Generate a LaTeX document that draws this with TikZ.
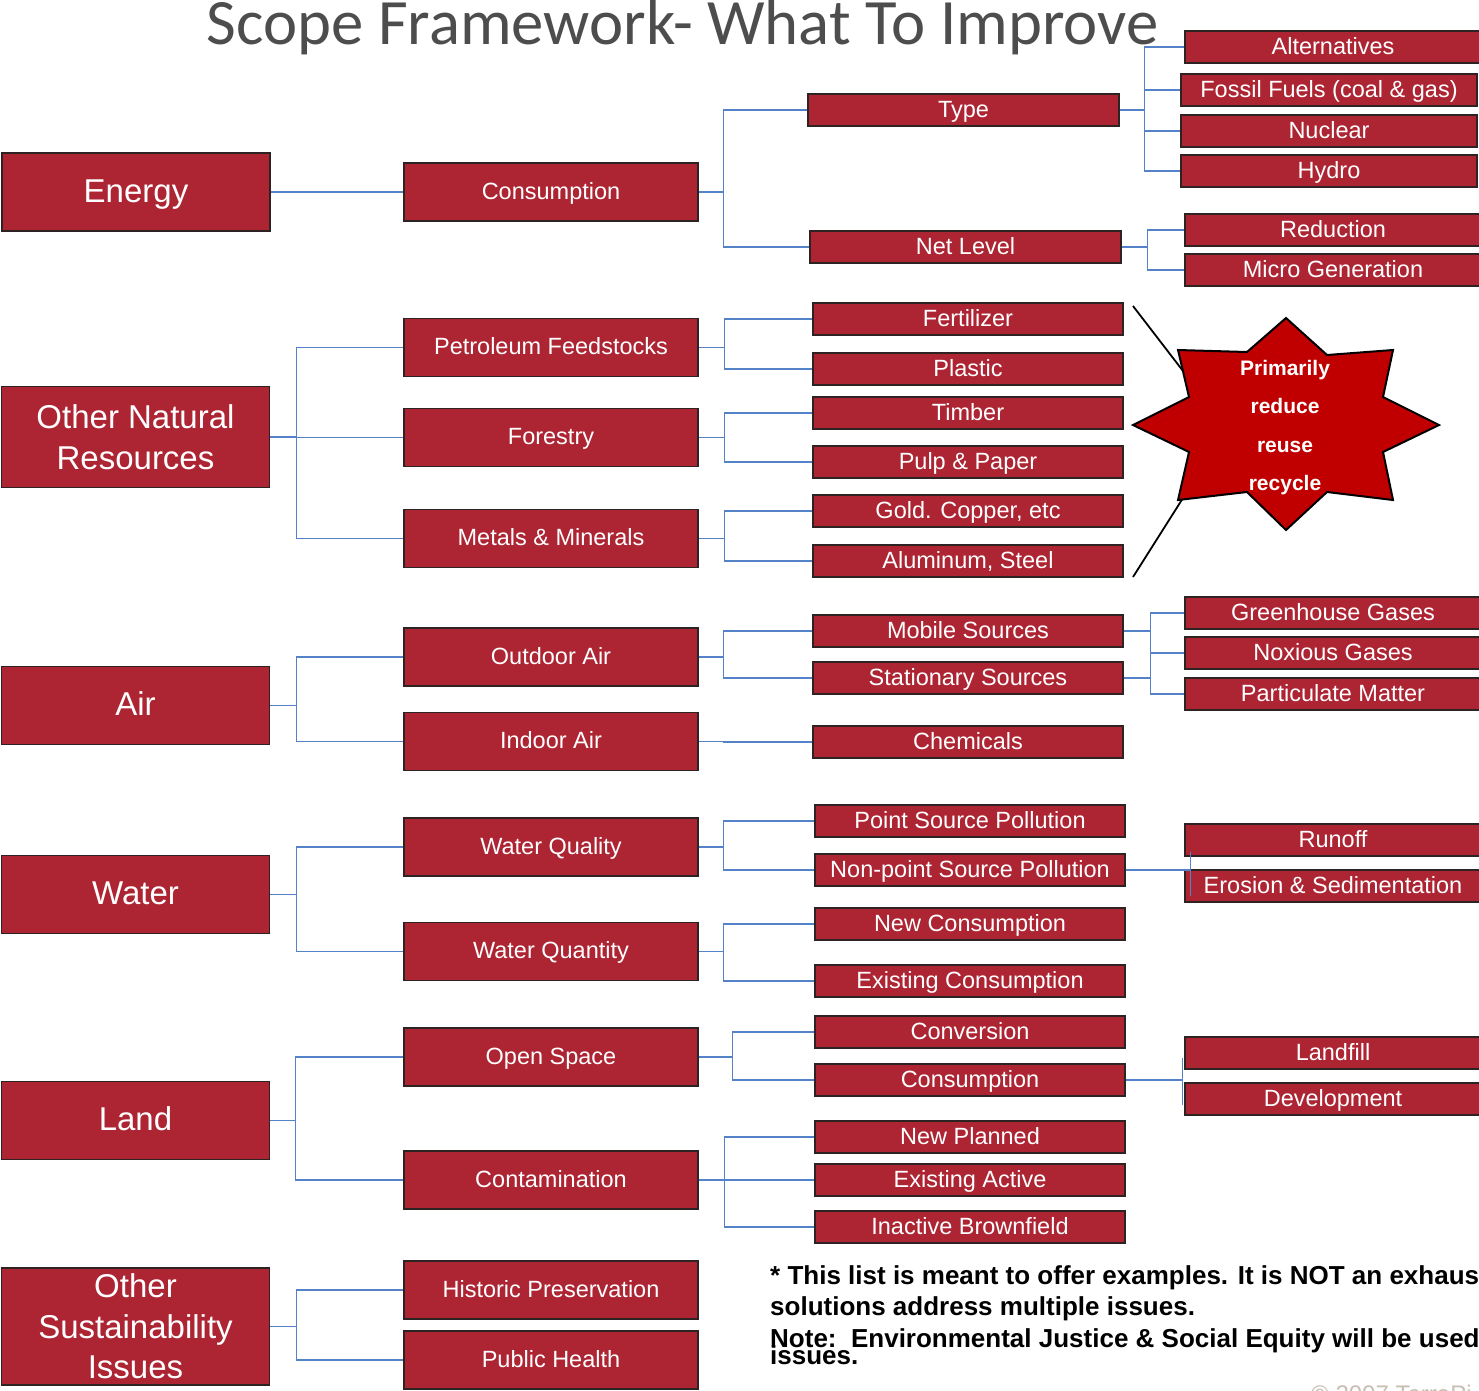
\documentclass[tikz,border=0pt]{standalone}
\usepackage{fontspec}
\setmainfont{Liberation Sans}
\newfontfamily\titlefont{Carlito}
\definecolor{boxred}{RGB}{173,36,51}
\definecolor{starred}{RGB}{192,0,0}
\definecolor{connblue}{RGB}{84,130,200}
\definecolor{boxline}{RGB}{45,35,35}
\definecolor{titlegray}{RGB}{77,77,77}
\definecolor{copygray}{RGB}{200,190,178}
\tikzset{
  box/.style={draw=boxline, line width=1.3pt, fill=boxred, text=white, inner sep=0pt, anchor=center},
  bone/.style={box, minimum width=268, minimum height=78, align=center, font=\fontsize{33}{40.5}\selectfont},
  bonesingle/.style={bone, text height=25pt, text depth=5pt},
  btwo/.style={box, minimum width=294, minimum height=58, text height=18pt, text depth=4pt, font=\fontsize{23.5}{28}\selectfont},
  bthree/.style={box, minimum width=310, minimum height=32, text height=18pt, text depth=4pt, font=\fontsize{23.5}{28}\selectfont},
  bfour/.style={box, minimum width=296, minimum height=32, text height=18pt, text depth=4pt, font=\fontsize{23.5}{28}\selectfont},
  conn/.style={draw=connblue, line width=1.2pt},
  note/.style={anchor=base west, inner sep=0pt, font=\fontsize{26}{30}\selectfont\bfseries},
}
\begin{document}
\begin{tikzpicture}[x=1pt,y=-1pt]
\useasboundingbox (0,0) rectangle (1479,1390);
\clip (0,0) rectangle (1479,1390);
\fill[white] (0,0) rectangle (1479,1390);

% title
\node[anchor=base, inner sep=0pt, text=titlegray, font=\titlefont\fontsize{64.7}{70}\selectfont] (title) at (682.5,44) {Scope Framework- What To Improve};

% column 1
\node[bonesingle] (energy) at (136,192) {Energy};
\node[bone, minimum height=101] (onr) at (135.5,437) {Other Natural\\Resources};
\node[bonesingle] (air) at (135.5,705.5) {Air};
\node[bonesingle] (water) at (135.5,894.5) {Water};
\node[bonesingle] (land) at (135.5,1120.5) {Land};
\node[bone, minimum height=117] (osi) at (135.5,1326.5) {Other\\Sustainability\\Issues};

% column 2
\node[btwo] (cons) at (551,192) {Consumption};
\node[btwo] (petro) at (551,347.5) {Petroleum Feedstocks};
\node[btwo] (forest) at (551,437.5) {Forestry};
\node[btwo] (metals) at (551,538.5) {Metals \& Minerals};
\node[btwo] (outdoor) at (551,657) {Outdoor Air};
\node[btwo] (indoor) at (551,741.5) {Indoor Air};
\node[btwo] (wqual) at (551,847) {Water Quality};
\node[btwo] (wquan) at (551,951.5) {Water Quantity};
\node[btwo] (open) at (551,1057) {Open Space};
\node[btwo] (contam) at (551,1180) {Contamination};
\node[btwo] (hist) at (551,1290) {Historic Preservation};
\node[btwo] (health) at (551,1360) {Public Health};

% column 3
\node[bthree, minimum width=311] (type) at (963.5,110) {Type};
\node[bthree, minimum width=311] (net) at (965.5,247) {Net Level};
\node[bthree] (fert) at (968,319) {Fertilizer};
\node[bthree] (plastic) at (968,369) {Plastic};
\node[bthree] (timber) at (968,413) {Timber};
\node[bthree] (pulp) at (968,462) {Pulp \& Paper};
\node[bthree] (gold) at (968,511) {Gold. Copper, etc};
\node[bthree] (alu) at (968,561) {Aluminum, Steel};
\node[bthree] (mobile) at (968,631) {Mobile Sources};
\node[bthree] (station) at (968,678) {Stationary Sources};
\node[bthree] (chem) at (968,742) {Chemicals};
\node[bthree] (point) at (970,821) {Point Source Pollution};
\node[bthree] (nonpoint) at (970,870) {Non-point Source Pollution};
\node[bthree] (newcons) at (970,924) {New Consumption};
\node[bthree] (excons) at (970,981) {Existing Consumption};
\node[bthree] (conv) at (970,1032) {Conversion};
\node[bthree] (lcons) at (970,1080) {Consumption};
\node[bthree] (newpl) at (970,1137) {New Planned};
\node[bthree] (exact) at (970,1180) {Existing Active};
\node[bthree] (inact) at (970,1227) {Inactive Brownfield};

% column 4
\node[bfour] (alt) at (1333,47) {Alternatives};
\node[bfour] (fossil) at (1329,90) {Fossil Fuels (coal \& gas)};
\node[bfour] (nuclear) at (1329,131) {Nuclear};
\node[bfour] (hydro) at (1329,171) {Hydro};
\node[bfour] (reduc) at (1333,230) {Reduction};
\node[bfour] (micro) at (1333,270) {Micro Generation};
\node[bfour] (ghg) at (1333,613) {Greenhouse Gases};
\node[bfour] (nox) at (1333,653) {Noxious Gases};
\node[bfour] (pm) at (1333,694) {Particulate Matter};
\node[bfour] (runoff) at (1333,840) {Runoff};
\node[bfour] (erosion) at (1333,886) {Erosion \& Sedimentation};
\node[bfour] (landfill) at (1333,1053) {Landfill};
\node[bfour] (devel) at (1333,1099) {Development};

% connectors
\draw[conn] (energy.east) -- (cons.west);
\draw[conn] (cons.east) -- ++(25,0) |- (type.west);
\draw[conn] (cons.east) -- ++(25,0) |- (net.west);
\foreach \t in {alt,fossil,nuclear,hydro}{\draw[conn] (type.east) -- ++(25,0) |- (\t.west);}
\foreach \t in {reduc,micro}{\draw[conn] (net.east) -- ++(26,0) |- (\t.west);}

\foreach \t in {petro,forest,metals}{\draw[conn] (onr.east) -- ++(26,0) |- (\t.west);}
\foreach \t in {fert,plastic}{\draw[conn] (petro.east) -- ++(26,0) |- (\t.west);}
\foreach \t in {timber,pulp}{\draw[conn] (forest.east) -- ++(26,0) |- (\t.west);}
\foreach \t in {gold,alu}{\draw[conn] (metals.east) -- ++(26,0) |- (\t.west);}

\foreach \t in {outdoor,indoor}{\draw[conn] (air.east) -- ++(26,0) |- (\t.west);}
\foreach \t in {mobile,station}{\draw[conn] (outdoor.east) -- ++(25,0) |- (\t.west);}
\draw[conn] (indoor.east) -- ++(25,0) |- (chem.west);
\foreach \t in {ghg,nox,pm}{\draw[conn] (mobile.east) -- ++(27,0) |- (\t.west);}
\draw[conn] (station.east) -- ++(27,0);

\foreach \t in {wqual,wquan}{\draw[conn] (water.east) -- ++(26,0) |- (\t.west);}
\foreach \t in {point,nonpoint}{\draw[conn] (wqual.east) -- ++(25,0) |- (\t.west);}
\foreach \t in {newcons,excons}{\draw[conn] (wquan.east) -- ++(25,0) |- (\t.west);}
\draw[conn] (nonpoint.east) -- ++(65,0) coordinate (npbus);
\draw[conn, line width=1pt] ([yshift=-26]npbus) -- ([yshift=18]npbus);

\foreach \t in {open,contam}{\draw[conn] (land.east) -- ++(25,0) |- (\t.west);}
\foreach \t in {conv,lcons}{\draw[conn] (open.east) -- ++(34,0) |- (\t.west);}
\foreach \t in {newpl,exact,inact}{\draw[conn] (contam.east) -- ++(26,0) |- (\t.west);}
\draw[conn] (lcons.east) -- ++(57,0) coordinate (lcbus);
\draw[conn] ([yshift=-25]lcbus) -- ([yshift=22]lcbus);

\foreach \t in {hist,health}{\draw[conn] (osi.east) -- ++(26,0) |- (\t.west);}

% starburst callout
\coordinate (ua) at (1133,306);
\coordinate (ub) at (1183,371);
\coordinate (la) at (1183,498);
\coordinate (lb) at (1133,577);
\draw[black, line width=1.8pt] (ua) -- (ub);
\draw[black, line width=1.8pt] (la) -- (lb);
\filldraw[fill=starred, draw=black, line width=2pt, line join=miter]
  (1286,318) -- (1327,355) -- (1393,350) -- (1383,397) -- (1439,425) -- (1383,452)
  -- (1393,500) -- (1327,492) -- (1286,530) -- (1247,492) -- (1178,500) -- (1189,452)
  -- (1133,425) -- (1189,397) -- (1178,350) -- (1247,352) -- cycle;
\node[text=white, align=center, inner sep=0pt, font=\fontsize{21}{38.5}\selectfont\bfseries] (startext) at (1285,427.5) {Primarily\\reduce\\reuse\\recycle};

% notes
\node[note] (n1) at (770,1284) {* This list is meant to offer examples. It is NOT an exhaustive list.};
\node[note] (n2) at (770,1315) {solutions address multiple issues.};
\node[note] (n3) at (770,1347) {Note:\ \ Environmental Justice \& Social Equity will be used};
\node[note] (n4) at (770,1364) {issues.};
\node[anchor=base west, inner sep=0pt, text=copygray, font=\fontsize{24}{28}\selectfont] (copy) at (1311,1402) {© 2007 TerraPi};
\end{tikzpicture}
\end{document}
